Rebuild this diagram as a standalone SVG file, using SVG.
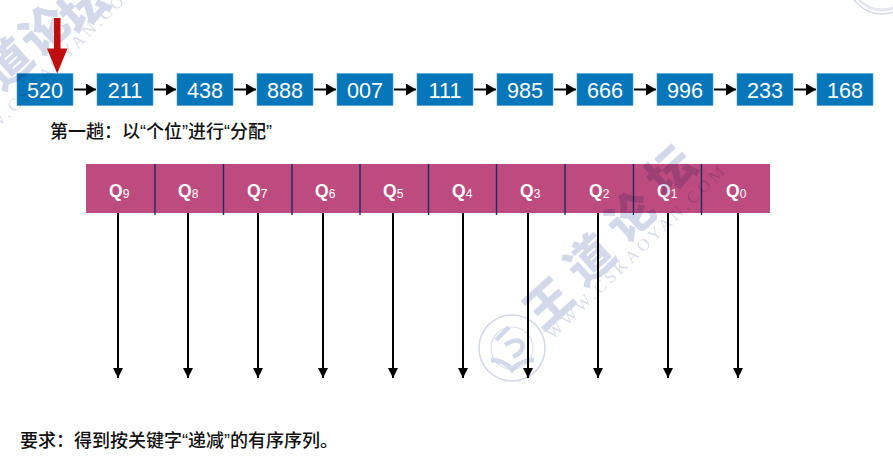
<svg xmlns="http://www.w3.org/2000/svg" width="893" height="469" viewBox="0 0 893 469">
<style>
text{font-family:"Liberation Sans","Noto Sans CJK SC",sans-serif}
.box{fill:#0676BA;stroke:#4E9FD3;stroke-width:.6}
.val{fill:#fff;font-size:21.6px;text-anchor:middle}
.q{fill:#fff;font-size:17.5px;font-weight:700}
.q tspan{font-size:12px;font-weight:400}
.cn{fill:#111;font-size:18px;font-weight:500;font-family:"Liberation Sans","Noto Sans CJK SC",sans-serif}
.link{stroke:#000;stroke-width:2;fill:none;marker-end:url(#h)}
.down{stroke:#000;stroke-width:2;fill:none;marker-end:url(#d)}
.div{stroke:#1B2C63;stroke-width:1.4}
#watermark{mix-blend-mode:multiply}
.wm{fill:#D3D8EA;font-family:"Noto Sans CJK SC",sans-serif;font-weight:900;font-size:47px;text-anchor:middle}
.wu{fill:#D9DDEA;font-family:"Liberation Serif",serif;font-size:17px;letter-spacing:3.6px}
</style>
<defs>
<marker id="h" markerUnits="userSpaceOnUse" markerWidth="11" markerHeight="12" refX="10" refY="6" orient="auto"><path d="M0 0L10 6L0 12Z"/></marker>
<marker id="d" markerUnits="userSpaceOnUse" markerWidth="11" markerHeight="11" refX="10" refY="5" orient="auto"><path d="M0 0L10 5L0 10Z"/></marker>
</defs>
<rect width="893" height="469" fill="#fff"/>
<g id="connectors">
<path class="link" d="M74 89.500H96"/><path class="link" d="M154 89.500H176"/><path class="link" d="M234 89.500H256"/><path class="link" d="M314 89.500H336"/><path class="link" d="M394 89.500H416"/><path class="link" d="M474 89.500H496"/><path class="link" d="M554 89.500H576"/><path class="link" d="M634 89.500H656"/><path class="link" d="M714 89.500H736"/><path class="link" d="M794 89.500H816"/>
<path class="down" d="M118 213V378"/><path class="down" d="M188 213V378"/><path class="down" d="M258 213V378"/><path class="down" d="M323 213V378"/><path class="down" d="M393 213V378"/><path class="down" d="M463 213V378"/><path class="down" d="M528 213V378"/><path class="down" d="M598 213V378"/><path class="down" d="M668 213V378"/><path class="down" d="M738 213V378"/>
</g>
<g id="n520"><rect class="box" x="17" y="73.500" width="56" height="32"/><text class="val" x="45" y="97.500">520</text></g>
<g id="n211"><rect class="box" x="97" y="73.500" width="56" height="32"/><text class="val" x="125" y="97.500">211</text></g>
<g id="n438"><rect class="box" x="177" y="73.500" width="56" height="32"/><text class="val" x="205" y="97.500">438</text></g>
<g id="n888"><rect class="box" x="257" y="73.500" width="56" height="32"/><text class="val" x="285" y="97.500">888</text></g>
<g id="n007"><rect class="box" x="337" y="73.500" width="56" height="32"/><text class="val" x="365" y="97.500">007</text></g>
<g id="n111"><rect class="box" x="417" y="73.500" width="56" height="32"/><text class="val" x="445" y="97.500">111</text></g>
<g id="n985"><rect class="box" x="497" y="73.500" width="56" height="32"/><text class="val" x="525" y="97.500">985</text></g>
<g id="n666"><rect class="box" x="577" y="73.500" width="56" height="32"/><text class="val" x="605" y="97.500">666</text></g>
<g id="n996"><rect class="box" x="657" y="73.500" width="56" height="32"/><text class="val" x="685" y="97.500">996</text></g>
<g id="n233"><rect class="box" x="737" y="73.500" width="56" height="32"/><text class="val" x="765" y="97.500">233</text></g>
<g id="n168"><rect class="box" x="817" y="73.500" width="56" height="32"/><text class="val" x="845" y="97.500">168</text></g>
<g id="pass-label"><text class="cn" x="50" y="138">第一趟：以“个位”进行“分配”</text></g>
<g id="queues">
<rect x="86" y="164" width="684" height="49" fill="#BE4B80"/>
<path class="div" d="M155 164V215M223.500 164V215M292 164V215M360 164V215M428.500 164V215M496.500 164V215M565 164V215M633.500 164V215M701.500 164V215"/>
<text class="q" x="109" y="196.500">Q<tspan dy="1.500">9</tspan></text>
<text class="q" x="178" y="196.500">Q<tspan dy="1.500">8</tspan></text>
<text class="q" x="247" y="196.500">Q<tspan dy="1.500">7</tspan></text>
<text class="q" x="315" y="196.500">Q<tspan dy="1.500">6</tspan></text>
<text class="q" x="383" y="196.500">Q<tspan dy="1.500">5</tspan></text>
<text class="q" x="452" y="196.500">Q<tspan dy="1.500">4</tspan></text>
<text class="q" x="520" y="196.500">Q<tspan dy="1.500">3</tspan></text>
<text class="q" x="589" y="196.500">Q<tspan dy="1.500">2</tspan></text>
<text class="q" x="657" y="196.500">Q<tspan dy="1.500">1</tspan></text>
<text class="q" x="726" y="196.500">Q<tspan dy="1.500">0</tspan></text>
</g>
<g id="requirement"><text class="cn" x="20" y="447">要求：得到按关键字“递减”的有序序列。</text></g>
<g id="watermark">
<text class="wm" transform="translate(560,316) rotate(-42)">王</text>
<text class="wm" transform="translate(601,272) rotate(-42)">道</text>
<text class="wm" transform="translate(642,229) rotate(-42)">论</text>
<text class="wm" transform="translate(682,184) rotate(-42)">坛</text>
<text class="wu" transform="translate(553,340) rotate(-44)">WWW.CSKAOYAN.COM</text>
<text class="wm" transform="translate(19,76) rotate(-42)">道</text>
<text class="wm" transform="translate(56,43) rotate(-42)">论</text>
<text class="wm" transform="translate(95,20) rotate(-42)">坛</text>
<text class="wu" transform="translate(-32,159) rotate(-45)">WWW.CSKAOYAN.COM</text>
<circle cx="512" cy="348" r="33" fill="none" stroke="#D5D9E8" stroke-width="1.6"/>
<circle cx="512" cy="348" r="21" fill="none" stroke="#DDE0EC" stroke-width="1.2"/>
<path d="M496 340l13-13M505 345q12-8 17-2q3 8-9 14M491 360q14 0 21 10q8-10 22-10" fill="none" stroke="#D3D8EA" stroke-width="4.500"/>
<circle cx="882" cy="-20" r="34" fill="none" stroke="#D5D9E8" stroke-width="1.600"/>
<circle cx="882" cy="-20" r="30" fill="none" stroke="#E4E6F0" stroke-width="3"/>
</g>
<g id="pointer"><path d="M54 18H60.500V48.500H67.500L57.200 73.500L47 48.500H54Z" fill="#C00D0D"/></g>
</svg>
